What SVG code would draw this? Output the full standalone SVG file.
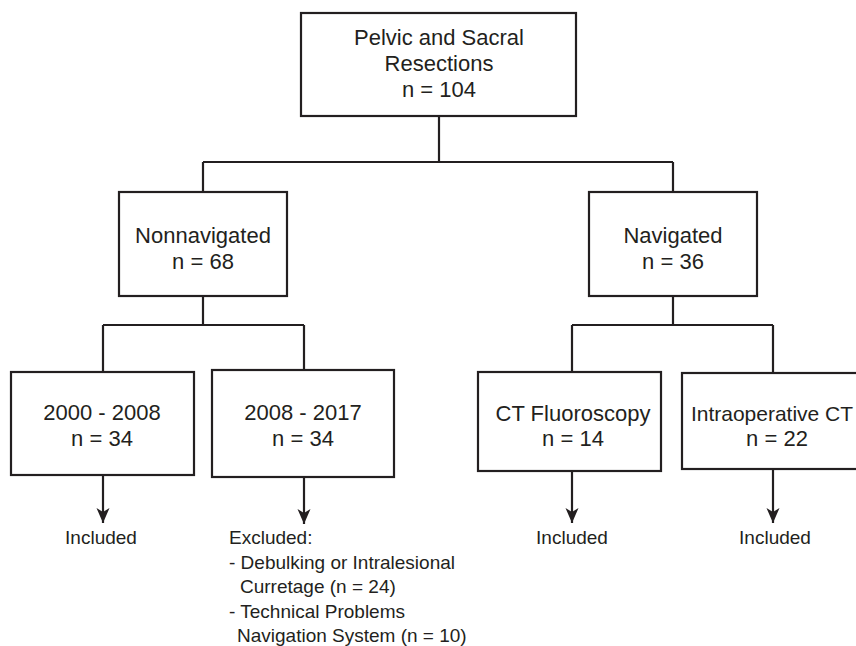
<svg xmlns="http://www.w3.org/2000/svg" width="856" height="646" viewBox="0 0 856 646">
<style>
.box{fill:#fff;stroke:#231f20;stroke-width:2.2}
.ln{fill:none;stroke:#231f20;stroke-width:2.2}
.t{font-family:"Liberation Sans",Arial,sans-serif;font-size:22px;fill:#231f20;text-anchor:middle}
.s{font-family:"Liberation Sans",Arial,sans-serif;font-size:19px;fill:#231f20}
.c{text-anchor:middle}
</style>
<defs>
<marker id="arr" markerWidth="18" markerHeight="14" refX="15" refY="6.5" orient="auto" markerUnits="userSpaceOnUse">
<path d="M0,0 L15,6.5 L0,13 L4,6.5 Z" fill="#231f20"/>
</marker>
</defs>
<rect width="856" height="646" fill="#fff"/>
<g id="connectors">
<path class="ln" d="M439,116 V162 M203,162 H673 M203,162 V192 M673,162 V192"/>
<path class="ln" d="M203,296 V325 M103,325 H304 M103,325 V372 M304,325 V370"/>
<path class="ln" d="M673,296 V325 M572,325 H773 M572,325 V372 M773,325 V373"/>
<path class="ln" marker-end="url(#arr)" d="M103,475 V523"/>
<path class="ln" marker-end="url(#arr)" d="M304,477 V524"/>
<path class="ln" marker-end="url(#arr)" d="M572,471 V523"/>
<path class="ln" marker-end="url(#arr)" d="M773,469 V523"/>
</g>
<g id="root">
<rect class="box" x="301" y="13" width="275" height="103"/>
<text class="t" x="439" y="45">Pelvic and Sacral</text>
<text class="t" x="439" y="71">Resections</text>
<text class="t" x="439" y="97">n = 104</text>
</g>
<g id="nonnavigated">
<rect class="box" x="119" y="192" width="168" height="104"/>
<text class="t" x="203" y="243">Nonnavigated</text>
<text class="t" x="203" y="269">n = 68</text>
</g>
<g id="navigated">
<rect class="box" x="589" y="192" width="168" height="104"/>
<text class="t" x="673" y="243">Navigated</text>
<text class="t" x="673" y="269">n = 36</text>
</g>
<g id="p2000">
<rect class="box" x="11" y="372" width="183" height="103"/>
<text class="t" x="102" y="420">2000 - 2008</text>
<text class="t" x="102" y="446">n = 34</text>
<text class="s c" x="101" y="544">Included</text>
</g>
<g id="p2008">
<rect class="box" x="212" y="370" width="182" height="107"/>
<text class="t" x="303" y="420">2008 - 2017</text>
<text class="t" x="303" y="446">n = 34</text>
<text class="s" x="229" y="544">Excluded:</text>
<text class="s" x="229" y="569">- Debulking or Intralesional</text>
<text class="s" x="240" y="593">Curretage (n = 24)</text>
<text class="s" x="229" y="618">- Technical Problems</text>
<text class="s" x="237" y="642">Navigation System (n = 10)</text>
</g>
<g id="ctfluoro">
<rect class="box" x="478" y="372" width="183" height="99"/>
<text class="t" x="573" y="421">CT Fluoroscopy</text>
<text class="t" x="573" y="446">n = 14</text>
<text class="s c" x="572" y="544">Included</text>
</g>
<g id="intraop">
<rect class="box" x="682" y="373" width="190" height="96"/>
<text class="t" x="772" y="421" style="font-size:21px">Intraoperative CT</text>
<text class="t" x="777" y="446">n = 22</text>
<text class="s c" x="775" y="544">Included</text>
</g>
</svg>
